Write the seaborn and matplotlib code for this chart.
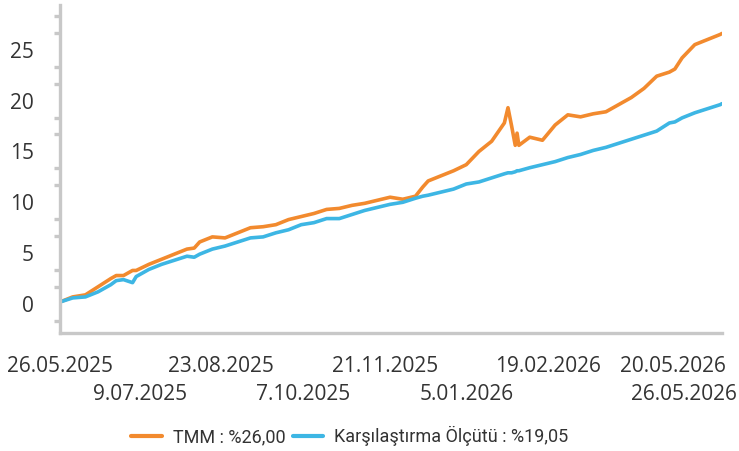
import numpy as np
import pandas as pd
import matplotlib
matplotlib.use("Agg")
import matplotlib.pyplot as plt
import matplotlib.dates as mdates
import matplotlib.transforms as mtransforms
from matplotlib.ticker import MultipleLocator
import seaborn as sns

# dates (day-first)
dates = ["26.05.2025", "02.06.2025", "09.06.2025", "16.06.2025", "23.06.2025", "26.06.2025",
         "30.06.2025", "05.07.2025", "07.07.2025", "14.07.2025", "21.07.2025", "28.07.2025",
         "04.08.2025", "08.08.2025", "11.08.2025", "18.08.2025", "25.08.2025", "01.09.2025",
         "08.09.2025", "15.09.2025", "22.09.2025", "29.09.2025", "06.10.2025", "13.10.2025",
         "20.10.2025", "27.10.2025", "03.11.2025", "10.11.2025", "17.11.2025", "24.11.2025",
         "01.12.2025", "08.12.2025", "12.12.2025", "15.12.2025", "22.12.2025", "29.12.2025",
         "05.01.2026", "12.01.2026", "19.01.2026", "26.01.2026", "28.01.2026", "30.01.2026",
         "01.02.2026", "02.02.2026", "03.02.2026", "09.02.2026", "16.02.2026", "23.02.2026",
         "02.03.2026", "09.03.2026", "16.03.2026", "23.03.2026", "30.03.2026", "06.04.2026",
         "13.04.2026", "20.04.2026", "27.04.2026", "30.04.2026", "04.05.2026", "11.05.2026",
         "18.05.2026", "25.05.2026", "26.05.2026"]

# TMM cumulative return (%)
tmm = [0.2, 0.7, 0.9, 1.7, 2.5, 2.8,
       2.8, 3.3, 3.3, 3.9, 4.4, 4.9,
       5.4, 5.5, 6.1, 6.6, 6.5, 7.0,
       7.5, 7.6, 7.8, 8.3, 8.6, 8.9,
       9.3, 9.4, 9.7, 9.9, 10.2, 10.5,
       10.3, 10.6, 11.5, 12.1, 12.6, 13.1,
       13.7, 15.0, 16.0, 17.8, 19.3, 17.5,
       15.6, 16.8, 15.6, 16.4, 16.1, 17.6,
       18.6, 18.4, 18.7, 18.9, 19.6, 20.3,
       21.2, 22.4, 22.8, 23.1, 24.2, 25.5,
       26.0, 26.5, 26.6]

# benchmark cumulative return (%)
bench = [0.2, 0.6, 0.7, 1.2, 1.9, 2.3,
         2.4, 2.1, 2.7, 3.4, 3.9, 4.3,
         4.7, 4.6, 4.9, 5.4, 5.7, 6.1,
         6.5, 6.6, 7.0, 7.3, 7.8, 8.0,
         8.4, 8.4, 8.8, 9.2, 9.5, 9.8,
         10.0, 10.4, 10.6, 10.7, 11.0, 11.3,
         11.8, 12.0, 12.4, 12.8, 12.9, 12.9,
         13.0, 13.1, 13.1, 13.4, 13.7, 14.0,
         14.4, 14.7, 15.1, 15.4, 15.8, 16.2,
         16.6, 17.0, 17.8, 17.9, 18.3, 18.8,
         19.2, 19.6, 19.7]

names = ["TMM : %26,00", "Karşılaştırma Ölçütü : %19,05"]
colors = ["#F28A2E", "#3DB6E4"]

tick_dates = ["26.05.2025", "9.07.2025", "23.08.2025", "7.10.2025", "21.11.2025",
              "5.01.2026", "19.02.2026", "5.04.2026", "20.05.2026", "26.05.2026"]
tick_labels = ["26.05.2025", "9.07.2025", "23.08.2025", "7.10.2025", "21.11.2025",
               "5.01.2026", "19.02.2026", "", "20.05.2026", "26.05.2026"]

d = pd.to_datetime(dates, format="%d.%m.%Y")
df = pd.concat([
    pd.DataFrame({"date": d, "value": tmm, "series": names[0]}),
    pd.DataFrame({"date": d, "value": bench, "series": names[1]}),
])

sns.set_style("white")
plt.rcParams["font.family"] = ["Open Sans", "DejaVu Sans"]

fig = plt.figure(figsize=(7.39, 4.51), dpi=100)
ax = fig.add_axes([0.0812, 0.2616, 0.8958, 0.7274])

sns.lineplot(data=df, x="date", y="value", hue="series", palette=colors,
             hue_order=names, linewidth=2.6, ax=ax, legend=False)

grey = "#C8C8C8"
for s in ["top", "right"]:
    ax.spines[s].set_visible(False)
for s in ["left", "bottom"]:
    ax.spines[s].set_color(grey)
    ax.spines[s].set_linewidth(2.4)

ax.set_xlim(d[0], d[-1])
ax.set_ylim(-2.85, 29.4)
ax.yaxis.set_major_locator(MultipleLocator(5))
ax.yaxis.set_minor_locator(MultipleLocator(5 / 3))
ax.tick_params(axis="y", which="major", length=9, width=2.4, color=grey,
               labelsize=15, labelcolor="#333333", pad=10)
ax.tick_params(axis="y", which="minor", length=4.5, width=2.4, color=grey, left=True)

tk = pd.to_datetime(tick_dates, format="%d.%m.%Y")
ax.set_xticks(mdates.date2num(tk))
ax.set_xticklabels(tick_labels)
ax.tick_params(axis="x", which="major", length=5.5, width=2.4, color=grey,
               labelsize=15, labelcolor="#333333", pad=11)
ax.set_xlabel("")
ax.set_ylabel("")

# stagger labels on two rows, last two pushed left to stay inside the figure
for i, lab in enumerate(ax.get_xticklabels()):
    dx = 0
    dy = -28 / 100 if i % 2 else 0
    if i >= 8:
        lab.set_horizontalalignment("right")
        dx = 15 / 100
    lab.set_transform(lab.get_transform() + mtransforms.ScaledTranslation(dx, dy, fig.dpi_scale_trans))

handles = [plt.Line2D([], [], color=c, linewidth=3) for c in colors]
fig.legend(handles, names, loc="center", bbox_to_anchor=(350 / 739, 0.033), ncol=2,
           frameon=False, handlelength=1.7, handletextpad=0.6, columnspacing=0.4,
           prop={"family": ["Roboto", "DejaVu Sans"], "size": 13}, labelcolor="#333333")

fig.savefig("out.png", dpi=100)
